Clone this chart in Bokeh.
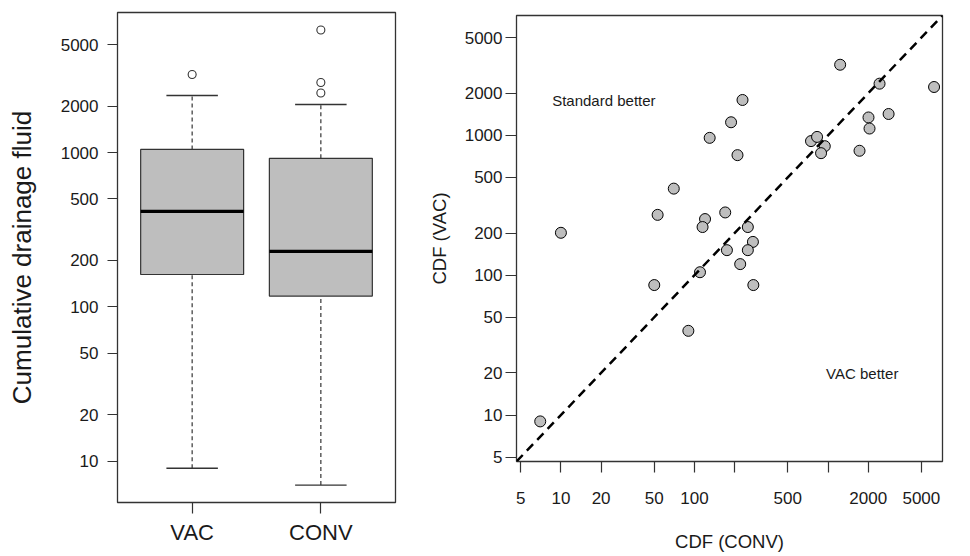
import numpy as np
from bokeh.plotting import figure
from bokeh.layouts import row
from bokeh.models import FixedTicker, CustomJSTickFormatter, Slope, Label
from bokeh.embed import file_html
from bokeh.resources import INLINE

# ---- data (paired observations) ----
conv = [1233, 2432, 6225, 229, 188, 130, 210, 746, 828, 946, 887, 1722, 2010, 2046, 2843,
        70, 53, 10, 120, 115, 170, 251, 274, 175, 251, 220, 110, 50, 276, 90, 7]
vac = [3200, 2343, 2218, 1791, 1241, 960, 722, 910, 975, 837, 746, 776, 1343, 1119, 1422,
       416, 270, 201, 252, 221, 281, 221, 173, 151, 151, 120, 105, 85, 85, 40, 9]
groups = ["VAC", "CONV"]
y_ticks = [10, 20, 50, 100, 200, 500, 1000, 2000, 5000]
scatter_ticks = [5, 10, 20, 50, 100, 200, 500, 1000, 2000, 5000]
x_hidden_labels = [200, 1000]

FONT = "Liberation Sans"
LINE = "#333333"
TXT = "#1a1a1a"


def fivenum(a):
    x = np.sort(np.asarray(a, dtype=float))
    n = len(x)
    n4 = np.floor((n + 3) / 2) / 2
    d = np.array([1, n4, (n + 1) / 2, n + 1 - n4, n]) - 1
    return 0.5 * (x[np.floor(d).astype(int)] + x[np.ceil(d).astype(int)])


def box_stats(a):
    a = np.asarray(a, dtype=float)
    _, q1, med, q3, _ = fivenum(a)
    iqr = q3 - q1
    lo_f, hi_f = q1 - 1.5 * iqr, q3 + 1.5 * iqr
    inside = a[(a >= lo_f) & (a <= hi_f)]
    out = a[(a < lo_f) | (a > hi_f)]
    return q1, med, q3, inside.min(), inside.max(), out


stats = [box_stats(vac), box_stats(conv)]
pos = np.arange(1, len(groups) + 1)
q1 = [s[0] for s in stats]
med = [s[1] for s in stats]
q3 = [s[2] for s in stats]
wlo = [s[3] for s in stats]
whi = [s[4] for s in stats]
out_x, out_y = [], []
for i, s in enumerate(stats):
    for v in s[5]:
        out_x.append(pos[i])
        out_y.append(v)


def style_axes(p):
    for ax in (p.xaxis[0], p.yaxis[0]):
        ax.axis_line_color = None
        ax.major_tick_line_color = LINE
        ax.major_tick_line_width = 1.2
        ax.minor_tick_line_color = None
        ax.major_tick_in = 0
        ax.major_label_text_font = FONT
        ax.major_label_text_color = TXT
        ax.axis_label_text_font = FONT
        ax.axis_label_text_font_style = "normal"
        ax.axis_label_text_color = TXT
    p.xgrid.grid_line_color = None
    p.ygrid.grid_line_color = None
    p.outline_line_color = LINE
    p.outline_line_width = 1.3
    p.background_fill_color = "white"
    p.border_fill_color = "white"


# ---- left: box plot ----
p1 = figure(width=420, height=554, x_range=(0.42, 2.58), y_range=(5.4, 8075),
            y_axis_type="log", output_backend="svg", toolbar_location=None,
            min_border_left=117, min_border_right=25, min_border_top=12, min_border_bottom=52)
p1.frame_align = False
style_axes(p1)
p1.vbar(x=pos, width=0.8, bottom=q1, top=q3, fill_color="#BEBEBE",
        line_color=LINE, line_width=1.2)
p1.segment(x0=pos, x1=pos, y0=q3, y1=whi, line_color=LINE, line_width=1.2, line_dash="4 3")
p1.segment(x0=pos, x1=pos, y0=wlo, y1=q1, line_color=LINE, line_width=1.2, line_dash="4 3")
p1.segment(x0=pos - 0.2, x1=pos + 0.2, y0=whi, y1=whi, line_color=LINE, line_width=1.4)
p1.segment(x0=pos - 0.2, x1=pos + 0.2, y0=wlo, y1=wlo, line_color=LINE, line_width=1.4)
p1.segment(x0=pos - 0.4, x1=pos + 0.4, y0=med, y1=med, line_color="black", line_width=3.2)
p1.scatter(x=out_x, y=out_y, marker="circle", size=8, fill_color=None,
           line_color=LINE, line_width=1.1)

p1.xaxis.ticker = FixedTicker(ticks=list(pos))
p1.xaxis.major_label_overrides = {int(k): g for k, g in zip(pos, groups)}
p1.xaxis.major_label_text_font_size = "22px"
p1.xaxis.major_tick_out = 11
p1.xaxis.major_label_standoff = 6
p1.yaxis.ticker = FixedTicker(ticks=y_ticks)
p1.yaxis.formatter = CustomJSTickFormatter(code="return Math.round(tick).toString();")
p1.yaxis.major_label_text_font_size = "17px"
p1.yaxis.major_tick_out = 10
p1.yaxis.major_label_standoff = 9
p1.yaxis.axis_label = "Cumulative drainage fluid"
p1.yaxis.axis_label_text_font_size = "26px"
p1.yaxis.axis_label_standoff = 21

# ---- right: scatter ----
p2 = figure(width=548, height=554, x_axis_type="log", y_axis_type="log",
            x_range=(4.65, 7200), y_range=(4.65, 7200),
            output_backend="svg", toolbar_location=None,
            min_border_left=96, min_border_right=26, min_border_top=15, min_border_bottom=91)
p2.frame_align = False
style_axes(p2)
p2.add_layout(Slope(gradient=1, y_intercept=0, line_color="black", line_width=2.5,
                    line_dash="9 6"))
p2.scatter(x=conv, y=vac, marker="circle", size=11, fill_color="#BEBEBE",
           line_color="black", line_width=1)

p2.xaxis.ticker = FixedTicker(ticks=scatter_ticks)
p2.yaxis.ticker = FixedTicker(ticks=scatter_ticks)
p2.xaxis.formatter = CustomJSTickFormatter(
    args=dict(hidden=x_hidden_labels),
    code="const t = Math.round(tick); return hidden.includes(t) ? '' : t.toString();")
p2.yaxis.formatter = CustomJSTickFormatter(code="return Math.round(tick).toString();")
for ax in (p2.xaxis[0], p2.yaxis[0]):
    ax.major_label_text_font_size = "17px"
    ax.major_tick_out = 11
    ax.axis_label_text_font_size = "18.5px"
p2.xaxis.major_label_standoff = 19
p2.yaxis.major_label_standoff = 3
p2.xaxis.axis_label = "CDF (CONV)"
p2.xaxis.axis_label_standoff = 24
p2.yaxis.axis_label = "CDF (VAC)"
p2.yaxis.axis_label_standoff = 12

lbl_font = dict(text_font=FONT, text_font_size="15px", text_color=TXT, text_baseline="middle")
p2.add_layout(Label(x=8.6, y=1783, text="Standard better", **lbl_font))
p2.add_layout(Label(x=968, y=19.9, text="VAC better", **lbl_font))

layout = row(p1, p2)
open("out.html", "w").write(file_html(layout, INLINE))
